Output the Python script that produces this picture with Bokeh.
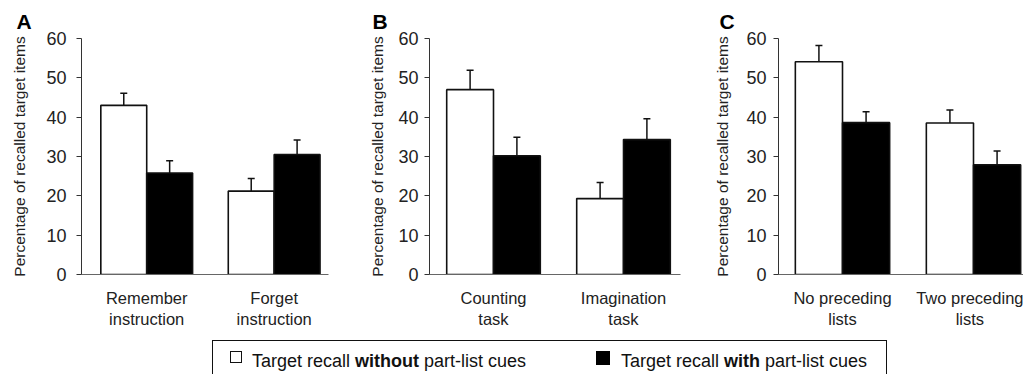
from bokeh.plotting import figure
from bokeh.models import (ColumnDataSource, Range1d, FixedTicker, Whisker, TeeHead,
                          Title, Div)
from bokeh.layouts import row, column
from bokeh.embed import file_html
from bokeh.resources import INLINE

# ---------------- data ----------------
y_ticks = [0, 10, 20, 30, 40, 50, 60]
y_label = "Percentage of recalled target items"

cats_a = ["Remember\ninstruction", "Forget\ninstruction"]
without_a = [43.0, 21.2]
without_se_a = [3.1, 3.2]
with_a = [25.8, 30.5]
with_se_a = [3.1, 3.7]

cats_b = ["Counting\ntask", "Imagination\ntask"]
without_b = [47.0, 19.3]
without_se_b = [4.9, 4.1]
with_b = [30.2, 34.3]
with_se_b = [4.7, 5.3]

cats_c = ["No preceding\nlists", "Two preceding\nlists"]
without_c = [54.1, 38.5]
without_se_c = [4.1, 3.3]
with_c = [38.6, 27.9]
with_se_c = [2.8, 3.5]

panel_letters = ["A", "B", "C"]
legend_without = ("Target recall ", "without", " part-list cues")
legend_with = ("Target recall ", "with", " part-list cues")

FONT = "Liberation Sans"
BAR_W = 0.36


def panel(letter, letter_off, cats, wo, wo_se, wi, wi_se, width, bl, br, xr,
          lab_standoff, tick_standoff):
    p = figure(width=width, height=337, output_backend="svg", toolbar_location=None,
               x_range=Range1d(*xr), y_range=Range1d(0, 60),
               min_border_left=bl, min_border_right=br, min_border_top=30,
               min_border_bottom=64)
    p.outline_line_color = None
    p.xgrid.visible = False
    p.ygrid.visible = False
    p.background_fill_color = "white"
    p.border_fill_color = "white"

    p.title = Title(text=letter, align="left", offset=letter_off, standoff=12,
                    text_font=FONT, text_font_size="21px", text_font_style="bold",
                    text_color="black")

    pos = [i + 1 for i in range(len(cats))]
    src_wo = ColumnDataSource(dict(
        x=[q - BAR_W / 2 for q in pos], top=wo,
        upper=[v + s for v, s in zip(wo, wo_se)]))
    src_wi = ColumnDataSource(dict(
        x=[q + BAR_W / 2 for q in pos], top=wi,
        upper=[v + s for v, s in zip(wi, wi_se)]))

    for src in (src_wo, src_wi):
        w = Whisker(source=src, base="x", lower="top", upper="upper",
                    dimension="height", line_color="#111", line_width=1.5,
                    upper_head=TeeHead(size=7, line_color="#111", line_width=1.5),
                    lower_head=None, level="underlay")
        p.add_layout(w)

    p.vbar(x="x", top="top", bottom=0, width=BAR_W, source=src_wo,
           fill_color="white", line_color="#111", line_width=1.6)
    p.vbar(x="x", top="top", bottom=0, width=BAR_W, source=src_wi,
           fill_color="black", line_color="#111", line_width=1.6)

    # y axis
    ya = p.yaxis[0]
    ya.ticker = FixedTicker(ticks=y_ticks)
    ya.minor_tick_line_color = None
    ya.major_tick_out = 5
    ya.major_tick_in = 0
    ya.major_tick_line_color = "#333"
    ya.axis_line_color = "#333"
    ya.major_label_text_font = FONT
    ya.major_label_text_font_size = "18px"
    ya.major_label_text_color = "#222"
    ya.major_label_standoff = tick_standoff
    ya.axis_label = y_label
    ya.axis_label_text_font = FONT
    ya.axis_label_text_font_size = "15.5px"
    ya.axis_label_text_font_style = "normal"
    ya.axis_label_text_color = "#222"
    ya.axis_label_standoff = lab_standoff

    # x axis
    xa = p.xaxis[0]
    xa.ticker = FixedTicker(ticks=pos)
    xa.major_label_overrides = {q: c for q, c in zip(pos, cats)}
    xa.minor_tick_line_color = None
    xa.major_tick_line_color = None
    xa.major_tick_out = 0
    xa.major_tick_in = 0
    xa.axis_line_color = "#666"
    xa.major_label_text_font = FONT
    xa.major_label_text_font_size = "16.5px"
    xa.major_label_text_color = "#222"
    xa.major_label_standoff = 14
    return p


pa = panel(panel_letters[0], -65, cats_a, without_a, without_se_a, with_a, with_se_a,
           340, 70, 20, (1 - 66 / 129, 1 - 66 / 129 + 250 / 129), 15, 10)
pb = panel(panel_letters[1], -57, cats_b, without_b, without_se_b, with_b, with_se_b,
           340, 81, 8, (1 - 64 / 130, 1 - 64 / 130 + 251 / 130), 9, 6)
pc = panel(panel_letters[2], -59, cats_c, without_c, without_se_c, with_c, with_se_c,
           335, 90, 0, (1 - 64 / 131, 1 - 64 / 131 + 245 / 131), 12, 7)

html = f"""
<div style="position:relative; width:675px; height:34px; border:1.5px solid #111;
            border-bottom:none; font-family:'{FONT}'; font-size:18px; color:#111; background:white;">
  <span style="position:absolute; left:17px; top:10px; width:12px; height:12px;
               border:1px solid #111; background:white;"></span>
  <span style="position:absolute; left:39px; top:8px; white-space:nowrap;">{legend_without[0]}<b>{legend_without[1]}</b>{legend_without[2]}</span>
  <span style="position:absolute; left:383px; top:10px; width:14px; height:14px;
               background:black;"></span>
  <span style="position:absolute; left:408px; top:8px; white-space:nowrap;">{legend_with[0]}<b>{legend_with[1]}</b>{legend_with[2]}</span>
</div>
"""
legend = Div(text=html, width=680, height=35, margin=(2, 0, 0, 204))

layout = column(row(pa, pb, pc), legend, margin=(1, 0, 0, 8))
open("out.html", "w").write(file_html(layout, INLINE))
